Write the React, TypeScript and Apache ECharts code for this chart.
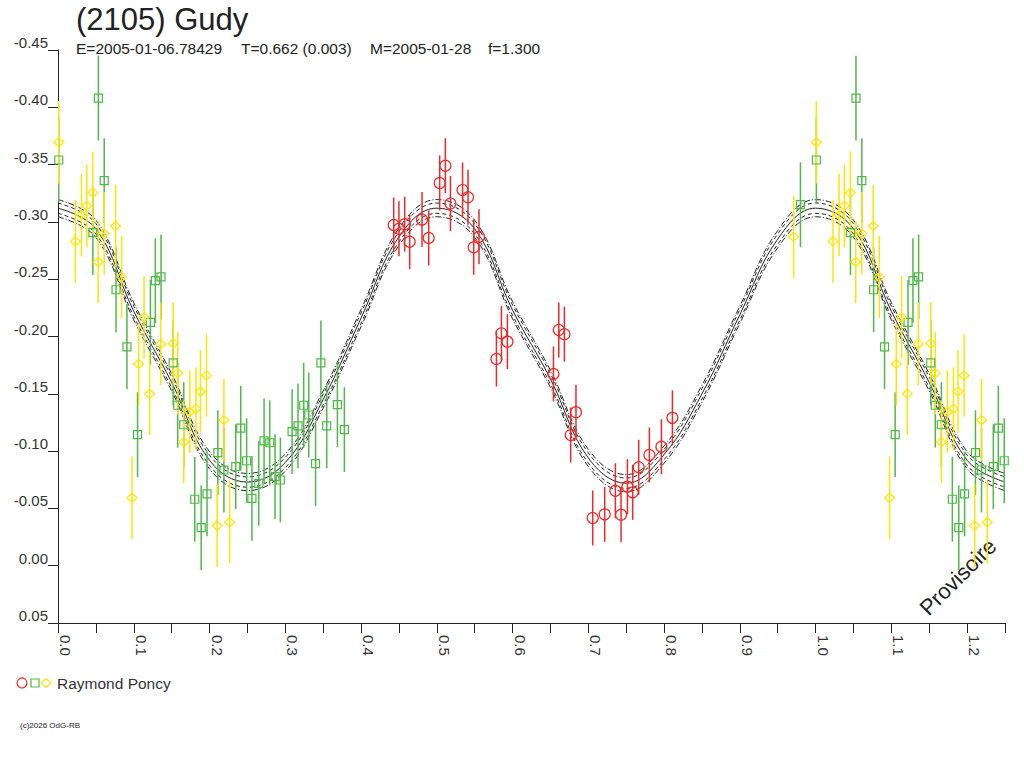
import React, { useEffect, useRef } from "react";
import * as echarts from "echarts";

// ---- Fit curve, phase and magnitude ----
const curvePhase = [0, 0.05, 0.1, 0.15, 0.2, 0.25, 0.3, 0.35, 0.4, 0.45, 0.5, 0.55, 0.6, 0.65, 0.7, 0.75, 0.8, 0.85, 0.9, 0.95, 1.0];
const curveMag = [-0.312, -0.294, -0.222, -0.16, -0.092, -0.073, -0.09, -0.145, -0.216, -0.287, -0.312, -0.294, -0.223, -0.163, -0.094, -0.072, -0.097, -0.15, -0.219, -0.285, -0.312];
// uncertainty envelopes of the fit
const fitBands = [0.0045, 0.0075];

// ---- Observations: [phase, magnitude] ----
const redObs = [
  [0.4431, -0.2973], [0.45, -0.294], [0.4576, -0.298], [0.4642, -0.2827], [0.4805, -0.302],
  [0.4893, -0.286], [0.5038, -0.334], [0.5113, -0.349], [0.518, -0.316], [0.534, -0.3278],
  [0.5412, -0.3215], [0.5487, -0.2778], [0.5557, -0.287], [0.5787, -0.1804], [0.5853, -0.2028],
  [0.5932, -0.1955], [0.654, -0.1673], [0.661, -0.2057], [0.6684, -0.202], [0.6767, -0.114],
  [0.6837, -0.134], [0.7058, -0.0416], [0.7216, -0.0448], [0.7357, -0.0654], [0.7432, -0.0445],
  [0.7516, -0.069], [0.7586, -0.064], [0.7665, -0.0859], [0.7806, -0.0966], [0.7965, -0.1038],
  [0.811, -0.129],
];
const greenObs = [
  [0.001, -0.354], [0.046, -0.2906], [0.0533, -0.408], [0.061, -0.336], [0.0766, -0.2408],
  [0.091, -0.191], [0.105, -0.1143], [0.122, -0.2124], [0.1285, -0.2487], [0.136, -0.252],
  [0.152, -0.177], [0.158, -0.14], [0.166, -0.123], [0.1805, -0.058], [0.189, -0.0332],
  [0.1967, -0.0626], [0.211, -0.0986], [0.219, -0.0835], [0.2346, -0.0864], [0.2412, -0.12],
  [0.249, -0.0916], [0.256, -0.0588], [0.265, -0.0719], [0.272, -0.109], [0.2795, -0.1073],
  [0.2865, -0.0777], [0.2935, -0.0748], [0.309, -0.117], [0.3168, -0.122], [0.3243, -0.14],
  [0.331, -0.1315], [0.34, -0.089], [0.347, -0.177], [0.3547, -0.122], [0.3688, -0.1405],
  [0.378, -0.1187], [0.98, -0.315],
];
const yellowObs = [
  [0.001, -0.3695], [0.023, -0.283], [0.031, -0.306], [0.038, -0.314], [0.046, -0.3255],
  [0.053, -0.265], [0.061, -0.29], [0.076, -0.2964], [0.084, -0.252], [0.0977, -0.0593],
  [0.1065, -0.176], [0.1136, -0.2167], [0.121, -0.15], [0.1356, -0.1935], [0.152, -0.194],
  [0.158, -0.168], [0.166, -0.108], [0.174, -0.1344], [0.182, -0.137], [0.188, -0.152],
  [0.196, -0.166], [0.21, -0.035], [0.219, -0.127], [0.2266, -0.038], [0.971, -0.287],
];
const redErr = 0.024;
const greenErr = 0.037;
const yellowErr = 0.036;

// axis ticks
const xMin = 0;
const xMax = 1.25;
const xStep = 0.05;
const yMin = -0.45;
const yMax = 0.05;
const yStep = 0.05;

const titleText = "(2105) Gudy";
const infoTexts = ["E=2005-01-06.78429", "T=0.662 (0.003)", "M=2005-01-28", "f=1.300"];
const observer = "Raymond Poncy";
const copyright = "(c)2026 OdG-RB";
const stamp = "Provisoire";

const FONT = '"Liberation Sans", Arial, Helvetica, sans-serif';
const RED = "#f02828";
const GREEN = "#4fb848";
const YELLOW = "#ffe400";
const INK = "#222";

// phases are folded: points below xMax-1 are shown again one cycle later
function fold(points: number[][]): number[][] {
  const out = points.map((p) => [p[0], p[1]]);
  points.forEach((p) => {
    if (p[0] + 1 <= xMax) out.push([p[0] + 1, p[1]]);
  });
  return out;
}

function curveData(offset: number): number[][] {
  const base = curvePhase.map((p, i) => [p, curveMag[i] + offset]);
  const extra = curvePhase
    .map((p, i) => [p + 1, curveMag[i] + offset])
    .filter((d) => d[0] > 1 && d[0] <= xMax + 1e-9);
  return base.concat(extra);
}

function errBarSeries(points: number[][], err: number, color: string) {
  return {
    type: "custom",
    clip: true,
    z: 3,
    encode: { x: 0, y: 1 },
    data: fold(points).map((p) => [p[0], p[1], err]),
    renderItem: (_params: any, api: any) => {
      const x = api.value(0);
      const y = api.value(1);
      const e = api.value(2);
      const a = api.coord([x, y - e]);
      const b = api.coord([x, y + e]);
      return {
        type: "line",
        shape: { x1: a[0], y1: a[1], x2: b[0], y2: b[1] },
        style: { stroke: color, lineWidth: 1.5 },
      };
    },
  };
}

function markerSeries(points: number[][], symbol: string, size: any, color: string) {
  return {
    type: "scatter",
    z: 4,
    symbol,
    symbolSize: size,
    data: fold(points),
    itemStyle: { color: "rgba(0,0,0,0)", borderColor: color, borderWidth: 1.2, opacity: 1 },
    emphasis: { disabled: true },
  };
}

function lineSeries(offset: number, type: any, width: number) {
  return {
    type: "line",
    z: 2,
    smooth: 0.4,
    symbol: "none",
    data: curveData(offset),
    lineStyle: { color: INK, width, type },
    emphasis: { disabled: true },
  };
}

export default function App() {
  const ref = useRef<HTMLDivElement>(null);

  useEffect(() => {
    document.body.style.margin = "0";
    if (!ref.current) return;
    const chart = echarts.init(ref.current, undefined, { renderer: "svg" });

    const infoX = [76, 241, 370, 488];

    const option: any = {
      animation: false,
      backgroundColor: "#ffffff",
      textStyle: { fontFamily: FONT },
      grid: { left: 58, right: 19, top: 50, bottom: 145 },
      xAxis: {
        type: "value",
        min: xMin,
        max: xMax,
        interval: xStep,
        axisLine: { show: true, onZero: false, lineStyle: { color: INK, width: 1 } },
        axisTick: { show: true, length: 10, lineStyle: { color: INK, width: 1 } },
        splitLine: { show: false },
        axisLabel: {
          rotate: -90,
          margin: 12,
          verticalAlign: "bottom",
          fontSize: 15,
          color: "#333",
          fontFamily: FONT,
          formatter: (v: number) => {
            const k = Math.round(v / xStep);
            if (k % 2 !== 0) return "";
            return (k * xStep).toFixed(1);
          },
        },
      },
      yAxis: {
        type: "value",
        inverse: true,
        min: yMin,
        max: yMax,
        interval: yStep,
        axisLine: { show: true, onZero: false, lineStyle: { color: INK, width: 1 } },
        axisTick: { show: true, length: 10, lineStyle: { color: INK, width: 1 } },
        splitLine: { show: false },
        axisLabel: {
          margin: 10,
          verticalAlign: "bottom",
          fontSize: 15,
          color: "#333",
          fontFamily: FONT,
          formatter: (v: number) => (Math.round(v * 100) / 100 + 0).toFixed(2),
        },
      },
      series: [
        lineSeries(0, "solid", 1),
        lineSeries(-fitBands[0], [4, 3], 1),
        lineSeries(fitBands[0], [4, 3], 1),
        lineSeries(-fitBands[1], [6, 2, 1, 2], 1),
        lineSeries(fitBands[1], [6, 2, 1, 2], 1),
        errBarSeries(greenObs, greenErr, GREEN),
        errBarSeries(yellowObs, yellowErr, YELLOW),
        errBarSeries(redObs, redErr, RED),
        markerSeries(greenObs, "rect", 8, GREEN),
        markerSeries(yellowObs, "diamond", [10, 9], YELLOW),
        markerSeries(redObs, "circle", 11, RED),
      ],
      graphic: [
        {
          type: "text",
          x: 76,
          y: 19,
          style: { text: titleText, fontSize: 31, fontFamily: FONT, fill: INK, align: "left", verticalAlign: "middle" },
        },
        ...infoTexts.map((t, i) => ({
          type: "text",
          x: infoX[i],
          y: 48,
          style: { text: t, fontSize: 15.5, fontFamily: FONT, fill: INK, align: "left", verticalAlign: "middle" },
        })),
        {
          type: "circle",
          shape: { cx: 22, cy: 683, r: 5 },
          style: { fill: "none", stroke: RED, lineWidth: 1.2 },
        },
        {
          type: "rect",
          shape: { x: 31, y: 679, width: 8, height: 8 },
          style: { fill: "none", stroke: GREEN, lineWidth: 1.2 },
        },
        {
          type: "polygon",
          shape: { points: [[46, 678.5], [51, 683], [46, 687.5], [41, 683]] },
          style: { fill: "none", stroke: YELLOW, lineWidth: 1.2 },
        },
        {
          type: "text",
          x: 57,
          y: 683,
          style: { text: observer, fontSize: 15.5, fontFamily: FONT, fill: "#333", align: "left", verticalAlign: "middle" },
        },
        {
          type: "text",
          x: 20,
          y: 725,
          style: { text: copyright, fontSize: 8, fontFamily: FONT, fill: INK, align: "left", verticalAlign: "middle" },
        },
        {
          type: "text",
          x: 958,
          y: 577,
          rotation: Math.PI / 4,
          style: { text: stamp, fontSize: 22, fontFamily: FONT, fill: INK, align: "center", verticalAlign: "middle" },
        },
      ],
    };

    chart.setOption(option);
    return () => chart.dispose();
  }, []);

  return <div ref={ref} style={{ width: 1024, height: 768 }} />;
}
